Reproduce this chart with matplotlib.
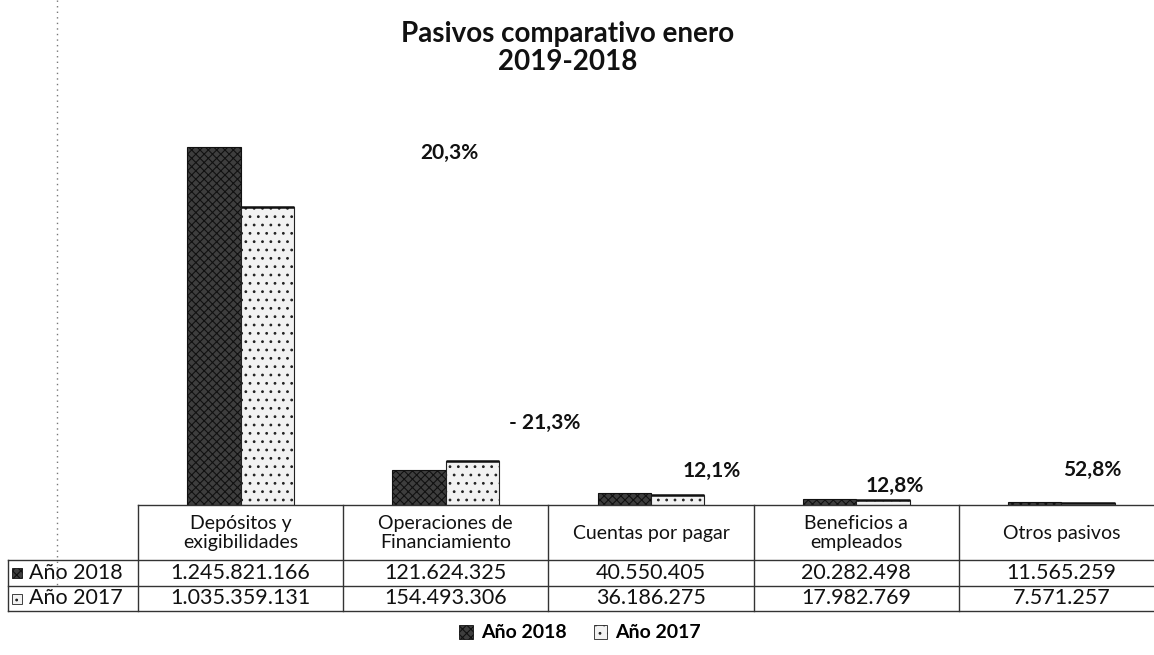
import matplotlib
matplotlib.use("Agg")
import matplotlib.pyplot as plt
import numpy as np
from matplotlib.patches import Rectangle
from matplotlib.lines import Line2D
from matplotlib.transforms import blended_transform_factory

plt.rcParams['font.family'] = ['Lato', 'DejaVu Sans']
plt.rcParams['hatch.linewidth'] = 0.8

# ---------------- data ----------------
categories = ["Depósitos y\nexigibilidades", "Operaciones de\nFinanciamiento",
              "Cuentas por pagar", "Beneficios a\nempleados", "Otros pasivos"]
series_names = ["Año 2018", "Año 2017"]
values_2018 = [1245821166, 121624325, 40550405, 20282498, 11565259]
values_2017 = [1035359131, 154493306, 36186275, 17982769, 7571257]
title = "Pasivos comparativo enero\n2019-2018"

# label placement (layout only): x offset from category, y position in data units
label_dx = [1.016, 0.483, 0.297, 0.189, 0.149]
label_y = [1225e6, 285e6, 118e6, 66e6, 122e6]

W, H = 1154, 655
fig = plt.figure(figsize=(W / 100, H / 100), dpi=100)
fx = lambda p: p / W
fy = lambda p: 1 - p / H

col_w = 205.2
ax = fig.add_axes([fx(138), fy(505), fx(5 * col_w), (405) / H])
ax.set_xlim(-0.5, 4.5)
ax.set_ylim(0, 1409.4e6)
ax.axis('off')

styles = [dict(facecolor='#3e3e3e', edgecolor='#111111', hatch='xxxx'),
          dict(facecolor='#f2f2f2', edgecolor='#222222', hatch='..')]

x = np.arange(len(categories))
bw = 0.26
ax.bar(x - bw / 2, values_2018, bw, linewidth=0.8, **styles[0])
ax.bar(x + bw / 2, values_2017, bw, linewidth=0.8, **styles[1])
# dark top edge on 2017 bars
ax.bar(x + bw / 2, [v * 0.0 for v in values_2017], bw, bottom=values_2017,
       edgecolor='#111111', linewidth=1.8, facecolor='none')

# percent change labels
for i, (a, b) in enumerate(zip(values_2018, values_2017)):
    pct = (a - b) / b * 100
    s = f"{abs(pct):.1f}".replace('.', ',') + "%"
    if pct < 0:
        s = "- " + s
    ax.text(i + label_dx[i], label_y[i], s, ha='center', va='center',
            fontsize=15, fontweight='bold', color='#111111')

# title
fig.text(fx(568), fy(48), title, ha='center', va='center', fontsize=20,
         fontweight='bold', color='#111111', linespacing=1.12)

# scan border dotted line
fig.add_artist(Line2D([fx(57), fx(57)], [fy(0), fy(585)], color='#777777',
                      lw=1.0, ls=(0, (1, 3))))

# ---------------- data table ----------------
tr = blended_transform_factory(ax.transData, fig.transFigure)
xl = -0.5 - 130 / col_w
xr = 4.5
lc = '#333333'
lw = 1.0
def hline(x0, x1, yp):
    ax.add_line(Line2D([x0, x1], [fy(yp), fy(yp)], transform=tr, color=lc,
                       lw=lw, clip_on=False))
def vline(xd, y0, y1):
    ax.add_line(Line2D([xd, xd], [fy(y0), fy(y1)], transform=tr, color=lc,
                       lw=lw, clip_on=False))

hline(-0.5, xr, 505)
for yp in (560, 586, 611):
    hline(xl, xr, yp)
for i in range(6):
    vline(-0.5 + i, 505, 611)
vline(xl, 560, 611)

fmt = lambda v: f"{v:,}".replace(',', '.')
for i, c in enumerate(categories):
    ax.text(i, fy(533), c, transform=tr, ha='center', va='center',
            fontsize=14, color='#111111', linespacing=1.1, clip_on=False)
    ax.text(i, fy(573), fmt(values_2018[i]), transform=tr, ha='center',
            va='center', fontsize=15.5, color='#111111', clip_on=False)
    ax.text(i, fy(598.5), fmt(values_2017[i]), transform=tr, ha='center',
            va='center', fontsize=15.5, color='#111111', clip_on=False)

for k, (name, yp) in enumerate(zip(series_names, (573, 598.5))):
    fig.add_artist(Rectangle((fx(12), fy(yp + 5)), fx(10), 10 / H, lw=0.6,
                             transform=fig.transFigure, **styles[k]))
    fig.text(fx(29), fy(yp), name, ha='left', va='center', fontsize=15.5,
             color='#111111')

# legend
handles = [Rectangle((0, 0), 1, 1, lw=0.6, **styles[k]) for k in range(2)]
leg = fig.legend(handles, series_names, loc='center', bbox_to_anchor=(fx(580), fy(633)),
                 ncol=2, frameon=False, handlelength=0.7, handleheight=0.7,
                 handletextpad=0.4, columnspacing=1.4,
                 prop={'weight': 'bold', 'size': 14})

fig.savefig('out.png', dpi=100, facecolor='white')
